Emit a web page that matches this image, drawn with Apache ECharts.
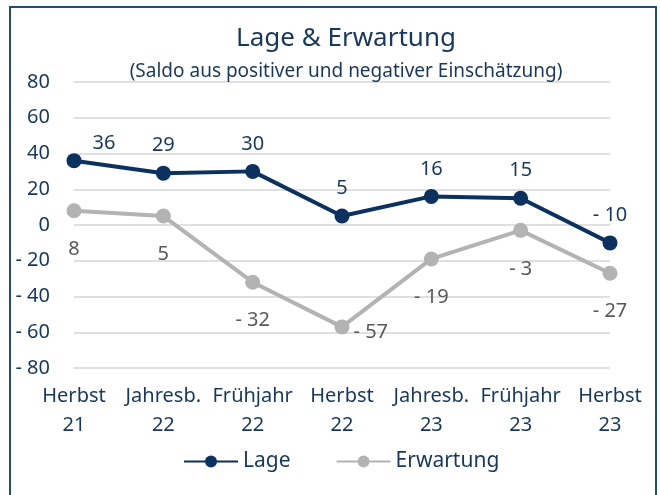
<!DOCTYPE html>
<html>
<head>
<meta charset="utf-8">
<script src="https://cdn.jsdelivr.net/npm/echarts@6/dist/echarts.min.js"></script>
<style>
  html, body { margin: 0; padding: 0; background: #fff; }
  #chart { width: 660px; height: 495px; }
</style>
</head>
<body>
<div id="chart"></div>
<script>
const categories = ['Herbst\n21', 'Jahresb.\n22', 'Frühjahr\n22', 'Herbst\n22', 'Jahresb.\n23', 'Frühjahr\n23', 'Herbst\n23']
const lage = [36, 29, 30, 5, 16, 15, -10]
const erwartung = [8, 5, -32, -57, -19, -3, -27]

const navy = '#0b3160'
const textNavy = '#17375e'
const grey = '#b3b3b3'
const font = 'Noto Sans'

function fmt (v) {
  return v < 0 ? '- ' + Math.abs(v) : String(v)
}

const myChart = echarts.init(document.getElementById('chart'))
const option = {
  animation: false,
  textStyle: { fontFamily: font },
  graphic: [
    {
      type: 'rect',
      shape: { x: 10, y: 7, width: 646, height: 510 },
      style: { fill: 'none', stroke: '#1f4e79', lineWidth: 2 }
    }
  ],
  title: {
    text: 'Lage & Erwartung',
    subtext: '(Saldo aus positiver und negativer Einschätzung)',
    left: 341,
    textAlign: 'center',
    top: 21,
    itemGap: 10,
    textStyle: { color: textNavy, fontSize: 26, fontWeight: 'normal', fontFamily: font },
    subtextStyle: { color: textNavy, fontSize: 19, fontFamily: font }
  },
  legend: {
    bottom: 18,
    left: 178,
    itemWidth: 54,
    itemHeight: 15,
    itemGap: 45,
    textStyle: { color: textNavy, fontSize: 21, fontFamily: font },
    data: ['Lage', 'Erwartung']
  },
  grid: {
    left: 74,
    right: 50,
    top: 82,
    bottom: 127
  },
  xAxis: {
    type: 'category',
    boundaryGap: false,
    data: categories,
    axisLine: { show: false },
    axisTick: { show: false },
    axisLabel: {
      color: textNavy,
      fontSize: 20,
      lineHeight: 29,
      margin: 14,
      interval: 0
    }
  },
  yAxis: {
    type: 'value',
    min: -80,
    max: 80,
    interval: 20,
    axisLine: { show: false },
    axisTick: { show: false },
    splitLine: { lineStyle: { color: '#e0e0e0', width: 2 } },
    axisLabel: {
      color: textNavy,
      fontSize: 20,
      margin: 24,
      formatter: fmt
    }
  },
  series: [
    {
      name: 'Lage',
      type: 'line',
      data: lage.map((v, i) => i === 0
        ? { value: v, label: { offset: [30, 10] } }
        : v),
      symbol: 'circle',
      symbolSize: 15,
      lineStyle: { color: navy, width: 4 },
      itemStyle: { color: navy },
      label: {
        show: true,
        position: 'top',
        distance: 10,
        color: textNavy,
        fontSize: 20,
        formatter: p => fmt(p.value)
      }
    },
    {
      name: 'Erwartung',
      type: 'line',
      data: erwartung.map((v, i) => i === 3
        ? { value: v, label: { position: 'right', distance: 4, offset: [0, 5] } }
        : v),
      symbol: 'circle',
      symbolSize: 15,
      lineStyle: { color: grey, width: 4 },
      itemStyle: { color: grey },
      label: {
        show: true,
        position: 'bottom',
        distance: 21,
        color: '#595959',
        fontSize: 20,
        formatter: p => fmt(p.value)
      }
    }
  ]
}
myChart.setOption(option)
</script>
</body>
</html>
